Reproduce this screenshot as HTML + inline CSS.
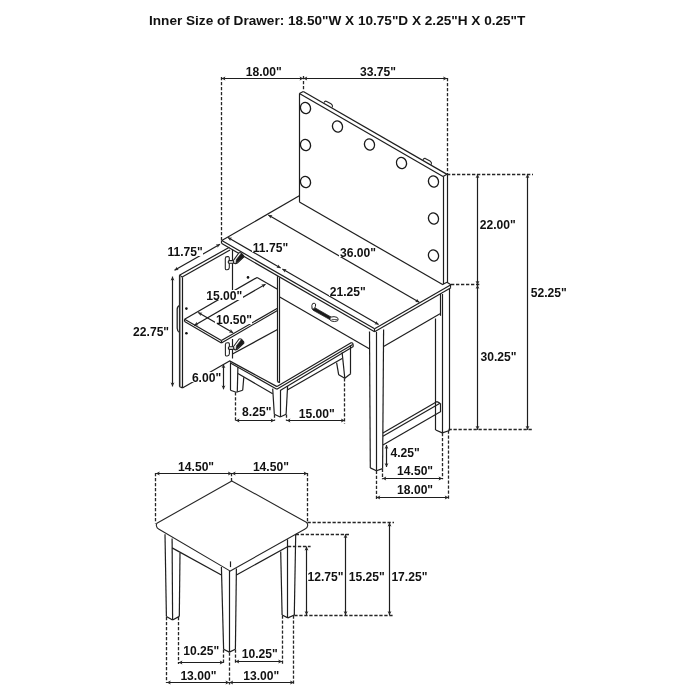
<!DOCTYPE html>
<html><head><meta charset="utf-8"><style>
html,body{margin:0;padding:0;background:#fff;width:700px;height:700px;overflow:hidden}
svg{display:block;will-change:transform}
text{font-family:"Liberation Sans",sans-serif;font-weight:bold;fill:#111}
</style></head><body>
<svg width="700" height="700" viewBox="0 0 700 700">
<rect width="700" height="700" fill="#fff"/>
<line x1="221.50" y1="77.00" x2="221.50" y2="240.50" stroke="#262626" stroke-width="1.3" stroke-dasharray="3.3,1.7"/>
<line x1="303.50" y1="76.00" x2="303.50" y2="91.00" stroke="#262626" stroke-width="1.3" stroke-dasharray="3.3,1.7"/>
<line x1="447.50" y1="78.00" x2="447.50" y2="174.20" stroke="#262626" stroke-width="1.3" stroke-dasharray="3.3,1.7"/>
<line x1="221.60" y1="78.50" x2="303.40" y2="78.50" stroke="#1e1e1e" stroke-width="1.2"/>
<path d="M303.40,78.50 L299.60,80.40 L300.36,78.50 L299.60,76.60 Z" fill="#262626"/>
<path d="M221.60,78.50 L225.40,76.60 L224.64,78.50 L225.40,80.40 Z" fill="#262626"/>
<line x1="303.40" y1="78.50" x2="447.00" y2="78.50" stroke="#1e1e1e" stroke-width="1.2"/>
<path d="M447.00,78.50 L443.20,80.40 L443.96,78.50 L443.20,76.60 Z" fill="#262626"/>
<path d="M303.40,78.50 L307.20,76.60 L306.44,78.50 L307.20,80.40 Z" fill="#262626"/>
<line x1="299.50" y1="93.60" x2="299.50" y2="201.90" stroke="#1e1e1e" stroke-width="1.2"/>
<line x1="299.40" y1="93.60" x2="443.00" y2="176.51" stroke="#1e1e1e" stroke-width="1.2"/>
<line x1="303.30" y1="91.40" x2="447.00" y2="174.37" stroke="#1e1e1e" stroke-width="1.2"/>
<line x1="299.40" y1="93.60" x2="303.30" y2="91.40" stroke="#1e1e1e" stroke-width="1.2"/>
<line x1="443.00" y1="176.50" x2="447.00" y2="174.30" stroke="#1e1e1e" stroke-width="1.2"/>
<line x1="443.50" y1="176.50" x2="443.50" y2="284.30" stroke="#1e1e1e" stroke-width="1.2"/>
<line x1="447.50" y1="174.30" x2="447.50" y2="282.30" stroke="#1e1e1e" stroke-width="1.2"/>
<line x1="299.40" y1="201.90" x2="443.00" y2="284.80" stroke="#1e1e1e" stroke-width="1.2"/>
<ellipse cx="305.5" cy="108" rx="5.0" ry="5.7" transform="rotate(-18 305.5 108)" fill="none" stroke="#1a1a1a" stroke-width="1.3"/>
<ellipse cx="337.5" cy="126.5" rx="5.0" ry="5.7" transform="rotate(-18 337.5 126.5)" fill="none" stroke="#1a1a1a" stroke-width="1.3"/>
<ellipse cx="369.5" cy="144.5" rx="5.0" ry="5.7" transform="rotate(-18 369.5 144.5)" fill="none" stroke="#1a1a1a" stroke-width="1.3"/>
<ellipse cx="401.5" cy="163" rx="5.0" ry="5.7" transform="rotate(-18 401.5 163)" fill="none" stroke="#1a1a1a" stroke-width="1.3"/>
<ellipse cx="433.5" cy="181.5" rx="5.0" ry="5.7" transform="rotate(-18 433.5 181.5)" fill="none" stroke="#1a1a1a" stroke-width="1.3"/>
<ellipse cx="305.5" cy="145" rx="5.0" ry="5.7" transform="rotate(-18 305.5 145)" fill="none" stroke="#1a1a1a" stroke-width="1.3"/>
<ellipse cx="305.5" cy="182" rx="5.0" ry="5.7" transform="rotate(-18 305.5 182)" fill="none" stroke="#1a1a1a" stroke-width="1.3"/>
<ellipse cx="433.5" cy="218.5" rx="5.0" ry="5.7" transform="rotate(-18 433.5 218.5)" fill="none" stroke="#1a1a1a" stroke-width="1.3"/>
<ellipse cx="433.5" cy="255.5" rx="5.0" ry="5.7" transform="rotate(-18 433.5 255.5)" fill="none" stroke="#1a1a1a" stroke-width="1.3"/>
<path d="M324,102.6 Q324.8,100.8 326.2,101.19999999999999 L331,103.8 Q333,105.0 332.4,107.39999999999999" fill="none" stroke="#262626" stroke-width="1.1" stroke-linejoin="round"/>
<path d="M423,159.8 Q423.8,158.0 425.2,158.4 L430,161.0 Q432,162.20000000000002 431.4,164.60000000000002" fill="none" stroke="#262626" stroke-width="1.1" stroke-linejoin="round"/>
<line x1="447.00" y1="174.50" x2="533.00" y2="174.50" stroke="#262626" stroke-width="1.3" stroke-dasharray="3.3,1.7"/>
<line x1="451.00" y1="284.50" x2="481.00" y2="284.50" stroke="#262626" stroke-width="1.3" stroke-dasharray="3.3,1.7"/>
<line x1="448.50" y1="429.50" x2="533.00" y2="429.50" stroke="#262626" stroke-width="1.3" stroke-dasharray="3.3,1.7"/>
<line x1="477.50" y1="174.20" x2="477.50" y2="284.90" stroke="#1e1e1e" stroke-width="1.2"/>
<path d="M477.50,284.90 L475.60,281.10 L477.50,281.86 L479.40,281.10 Z" fill="#262626"/>
<path d="M477.50,174.20 L479.40,178.00 L477.50,177.24 L475.60,178.00 Z" fill="#262626"/>
<line x1="477.50" y1="284.90" x2="477.50" y2="429.80" stroke="#1e1e1e" stroke-width="1.2"/>
<path d="M477.50,429.80 L475.60,426.00 L477.50,426.76 L479.40,426.00 Z" fill="#262626"/>
<path d="M477.50,284.90 L479.40,288.70 L477.50,287.94 L475.60,288.70 Z" fill="#262626"/>
<line x1="527.50" y1="174.20" x2="527.50" y2="429.80" stroke="#1e1e1e" stroke-width="1.2"/>
<path d="M527.50,429.80 L525.60,426.00 L527.50,426.76 L529.40,426.00 Z" fill="#262626"/>
<path d="M527.50,174.20 L529.40,178.00 L527.50,177.24 L525.60,178.00 Z" fill="#262626"/>
<line x1="221.80" y1="240.60" x2="299.30" y2="195.85" stroke="#1e1e1e" stroke-width="1.2"/>
<line x1="221.80" y1="240.60" x2="374.60" y2="328.83" stroke="#1e1e1e" stroke-width="1.2"/>
<line x1="221.80" y1="243.60" x2="374.60" y2="331.83" stroke="#1e1e1e" stroke-width="1.2"/>
<line x1="221.50" y1="240.60" x2="221.50" y2="243.60" stroke="#1e1e1e" stroke-width="1.2"/>
<line x1="374.60" y1="328.83" x2="450.90" y2="284.77" stroke="#1e1e1e" stroke-width="1.2"/>
<line x1="374.60" y1="331.83" x2="450.90" y2="287.77" stroke="#1e1e1e" stroke-width="1.2"/>
<line x1="374.50" y1="328.83" x2="374.50" y2="331.83" stroke="#1e1e1e" stroke-width="1.2"/>
<line x1="450.50" y1="284.77" x2="450.50" y2="287.77" stroke="#1e1e1e" stroke-width="1.2"/>
<line x1="450.90" y1="284.77" x2="447.00" y2="282.30" stroke="#1e1e1e" stroke-width="1.2"/>
<line x1="443.00" y1="284.30" x2="447.00" y2="282.30" stroke="#1e1e1e" stroke-width="1.2"/>
<line x1="268.30" y1="215.00" x2="419.30" y2="302.19" stroke="#1e1e1e" stroke-width="1.2"/>
<path d="M419.30,302.19 L415.06,301.93 L416.67,300.67 L416.96,298.64 Z" fill="#262626"/>
<path d="M268.30,215.00 L272.54,215.25 L270.93,216.52 L270.64,218.55 Z" fill="#262626"/>
<line x1="227.90" y1="237.50" x2="280.60" y2="267.93" stroke="#1e1e1e" stroke-width="1.2"/>
<path d="M280.60,267.93 L276.36,267.67 L277.97,266.41 L278.26,264.38 Z" fill="#262626"/>
<path d="M227.90,237.50 L232.14,237.75 L230.53,239.02 L230.24,241.05 Z" fill="#262626"/>
<line x1="282.40" y1="268.97" x2="378.60" y2="324.51" stroke="#1e1e1e" stroke-width="1.2"/>
<path d="M378.60,324.51 L374.36,324.26 L375.97,322.99 L376.26,320.97 Z" fill="#262626"/>
<path d="M282.40,268.97 L286.64,269.22 L285.03,270.49 L284.74,272.51 Z" fill="#262626"/>
<line x1="277.50" y1="276.20" x2="277.50" y2="381.60" stroke="#1e1e1e" stroke-width="1.2"/>
<line x1="279.50" y1="277.40" x2="279.50" y2="382.60" stroke="#1e1e1e" stroke-width="1.2"/>
<line x1="279.70" y1="297.00" x2="369.30" y2="348.74" stroke="#1e1e1e" stroke-width="1.2"/>
<path d="M313.2,306.8 L331,317 L331.5,320.5 L313.2,310.3 Q311.6,309 312,307.5 Z" fill="#1a1a1a" stroke="#262626" stroke-width="0.8" stroke-linejoin="round"/>
<path d="M312.2,308.6 Q311.2,305.2 312.6,303.6 Q314.2,302.6 315.6,304 Q315.8,306.6 314.6,308.2" fill="#fff" stroke="#262626" stroke-width="1.0" stroke-linejoin="round"/>
<path d="M330,317.2 Q334.5,316 337.2,317.4 Q339,319 337.6,320.8 Q334.8,322.2 331.2,321 Q329.6,320 330,317.2 Z" fill="#fff" stroke="#262626" stroke-width="1.0" stroke-linejoin="round"/>
<line x1="331.50" y1="319.40" x2="337.60" y2="319.60" stroke="#1e1e1e" stroke-width="0.7"/>
<line x1="369.50" y1="331.50" x2="370.30" y2="467.90" stroke="#1e1e1e" stroke-width="1.2"/>
<line x1="376.50" y1="331.80" x2="376.50" y2="470.70" stroke="#1e1e1e" stroke-width="1.2"/>
<line x1="383.60" y1="329.50" x2="382.60" y2="468.60" stroke="#1e1e1e" stroke-width="1.2"/>
<line x1="370.30" y1="467.90" x2="376.40" y2="470.70" stroke="#1e1e1e" stroke-width="1.2"/>
<line x1="376.40" y1="470.70" x2="382.60" y2="468.60" stroke="#1e1e1e" stroke-width="1.2"/>
<line x1="383.60" y1="346.40" x2="440.00" y2="313.83" stroke="#1e1e1e" stroke-width="1.2"/>
<line x1="440.50" y1="294.00" x2="440.50" y2="315.80" stroke="#1e1e1e" stroke-width="1.2"/>
<line x1="442.50" y1="294.00" x2="442.50" y2="432.90" stroke="#1e1e1e" stroke-width="1.2"/>
<line x1="449.50" y1="288.30" x2="449.50" y2="430.50" stroke="#1e1e1e" stroke-width="1.2"/>
<line x1="435.50" y1="318.50" x2="435.50" y2="430.00" stroke="#1e1e1e" stroke-width="1.2"/>
<line x1="435.70" y1="430.00" x2="442.30" y2="432.90" stroke="#1e1e1e" stroke-width="1.2"/>
<line x1="442.30" y1="432.90" x2="449.50" y2="430.50" stroke="#1e1e1e" stroke-width="1.2"/>
<line x1="382.90" y1="432.90" x2="437.10" y2="401.60" stroke="#1e1e1e" stroke-width="1.2"/>
<line x1="382.90" y1="436.20" x2="440.00" y2="403.23" stroke="#1e1e1e" stroke-width="1.2"/>
<line x1="382.90" y1="445.00" x2="440.00" y2="412.03" stroke="#1e1e1e" stroke-width="1.2"/>
<line x1="437.10" y1="401.60" x2="440.00" y2="403.20" stroke="#1e1e1e" stroke-width="1.2"/>
<line x1="440.50" y1="403.20" x2="440.50" y2="412.30" stroke="#1e1e1e" stroke-width="1.2"/>
<line x1="376.50" y1="470.70" x2="376.50" y2="499.30" stroke="#262626" stroke-width="1.3" stroke-dasharray="3.3,1.7"/>
<line x1="382.50" y1="468.60" x2="382.50" y2="479.30" stroke="#262626" stroke-width="1.3" stroke-dasharray="3.3,1.7"/>
<line x1="442.50" y1="433.00" x2="442.50" y2="479.30" stroke="#262626" stroke-width="1.3" stroke-dasharray="3.3,1.7"/>
<line x1="448.50" y1="430.50" x2="448.50" y2="499.30" stroke="#262626" stroke-width="1.3" stroke-dasharray="3.3,1.7"/>
<line x1="382.40" y1="478.50" x2="442.40" y2="478.50" stroke="#1e1e1e" stroke-width="1.2"/>
<path d="M442.40,478.50 L438.60,480.40 L439.36,478.50 L438.60,476.60 Z" fill="#262626"/>
<path d="M382.40,478.50 L386.20,476.60 L385.44,478.50 L386.20,480.40 Z" fill="#262626"/>
<line x1="376.40" y1="497.50" x2="448.60" y2="497.50" stroke="#1e1e1e" stroke-width="1.2"/>
<path d="M448.60,497.50 L444.80,499.40 L445.56,497.50 L444.80,495.60 Z" fill="#262626"/>
<path d="M376.40,497.50 L380.20,495.60 L379.44,497.50 L380.20,499.40 Z" fill="#262626"/>
<line x1="386.50" y1="445.00" x2="386.50" y2="467.00" stroke="#1e1e1e" stroke-width="1.2"/>
<path d="M386.50,467.00 L384.60,463.20 L386.50,463.96 L388.40,463.20 Z" fill="#262626"/>
<path d="M386.50,445.00 L388.40,448.80 L386.50,448.04 L384.60,448.80 Z" fill="#262626"/>
<line x1="179.40" y1="275.20" x2="229.40" y2="247.30" stroke="#1e1e1e" stroke-width="1.2"/>
<line x1="182.20" y1="277.00" x2="230.00" y2="250.00" stroke="#1e1e1e" stroke-width="1.2"/>
<line x1="179.40" y1="275.20" x2="182.20" y2="277.00" stroke="#1e1e1e" stroke-width="1.2"/>
<line x1="179.50" y1="275.40" x2="179.50" y2="386.40" stroke="#1e1e1e" stroke-width="1.2"/>
<line x1="182.50" y1="277.20" x2="182.50" y2="387.90" stroke="#1e1e1e" stroke-width="1.2"/>
<line x1="179.30" y1="386.40" x2="182.40" y2="387.90" stroke="#1e1e1e" stroke-width="1.2"/>
<line x1="182.40" y1="387.90" x2="230.00" y2="360.70" stroke="#1e1e1e" stroke-width="1.2"/>
<path d="M179.8,305.4 Q177.2,306.4 177.2,309.2 L177.2,328.2 Q177.2,331.2 179.8,332.8" fill="none" stroke="#262626" stroke-width="1.3" stroke-linejoin="round"/>
<line x1="180.50" y1="276.50" x2="180.50" y2="386.50" stroke="#9a9a9a" stroke-width="1.2"/>
<circle cx="186.4" cy="308.6" r="1.3" fill="#111"/>
<circle cx="186.4" cy="333.3" r="1.3" fill="#111"/>
<circle cx="248" cy="277.4" r="1.3" fill="#111"/>
<line x1="174.50" y1="270.30" x2="220.00" y2="244.30" stroke="#1e1e1e" stroke-width="1.2"/>
<path d="M220.00,244.30 L217.64,247.83 L217.36,245.81 L215.76,244.54 Z" fill="#262626"/>
<path d="M174.50,270.30 L176.86,266.77 L177.14,268.79 L178.74,270.06 Z" fill="#262626"/>
<line x1="172.50" y1="276.60" x2="172.50" y2="386.40" stroke="#1e1e1e" stroke-width="1.2"/>
<path d="M172.50,386.40 L170.60,382.60 L172.50,383.36 L174.40,382.60 Z" fill="#262626"/>
<path d="M172.50,276.60 L174.40,280.40 L172.50,279.64 L170.60,280.40 Z" fill="#262626"/>
<line x1="223.50" y1="364.30" x2="223.50" y2="389.30" stroke="#1e1e1e" stroke-width="1.2"/>
<path d="M223.50,389.30 L221.60,385.50 L223.50,386.26 L225.40,385.50 Z" fill="#262626"/>
<path d="M223.50,364.30 L225.40,368.10 L223.50,367.34 L221.60,368.10 Z" fill="#262626"/>
<line x1="184.60" y1="319.30" x2="257.10" y2="277.40" stroke="#1e1e1e" stroke-width="1.2"/>
<line x1="184.60" y1="319.30" x2="221.40" y2="340.60" stroke="#1e1e1e" stroke-width="1.2"/>
<line x1="184.60" y1="321.60" x2="221.40" y2="342.90" stroke="#1e1e1e" stroke-width="1.2"/>
<line x1="184.50" y1="319.30" x2="184.50" y2="321.60" stroke="#1e1e1e" stroke-width="1.2"/>
<line x1="221.40" y1="340.60" x2="277.50" y2="308.20" stroke="#1e1e1e" stroke-width="1.2"/>
<line x1="221.40" y1="342.90" x2="277.50" y2="310.50" stroke="#1e1e1e" stroke-width="1.2"/>
<line x1="221.50" y1="340.60" x2="221.50" y2="342.90" stroke="#1e1e1e" stroke-width="1.2"/>
<line x1="257.10" y1="277.40" x2="277.50" y2="289.20" stroke="#1e1e1e" stroke-width="1.2"/>
<line x1="198.20" y1="312.50" x2="233.10" y2="332.65" stroke="#1e1e1e" stroke-width="1.2"/>
<path d="M233.10,332.65 L228.86,332.40 L230.47,331.13 L230.76,329.11 Z" fill="#262626"/>
<path d="M198.20,312.50 L202.44,312.75 L200.83,314.02 L200.54,316.05 Z" fill="#262626"/>
<line x1="194.30" y1="325.40" x2="265.50" y2="284.29" stroke="#1e1e1e" stroke-width="1.2"/>
<path d="M265.50,284.29 L263.16,287.83 L262.87,285.81 L261.26,284.54 Z" fill="#262626"/>
<path d="M194.30,325.40 L196.64,321.85 L196.93,323.88 L198.54,325.15 Z" fill="#262626"/>
<line x1="232.50" y1="249.50" x2="232.50" y2="290.00" stroke="#1e1e1e" stroke-width="1.2"/>
<line x1="232.50" y1="339.00" x2="232.50" y2="358.50" stroke="#1e1e1e" stroke-width="1.2"/>
<path d="M225.3,258.40000000000003 Q225.3,256.6 227.3,256.6 L228.5,256.6 Q229.3,257.1 229.3,258.1 L229.3,267.6 Q229.10000000000002,269.6 227.10000000000002,269.8 L226.10000000000002,269.8 Q225.3,269.6 225.3,268.6 Z" fill="#fff" stroke="#262626" stroke-width="1.1" stroke-linejoin="round"/>
<path d="M233.3,260.6 L238.8,253.00000000000003 Q239.8,252.00000000000003 241.3,253.00000000000003 L243.60000000000002,255.60000000000002 L243.60000000000002,257.20000000000005 L237.3,263.1 Q235.3,264.20000000000005 233.8,263.1 Z" fill="#fff" stroke="#262626" stroke-width="1.1" stroke-linejoin="round"/>
<path d="M235.8,263.6 L243.60000000000002,257.20000000000005 L243.60000000000002,255.60000000000002 L241.3,253.20000000000002 L236.3,259.6 Z" fill="#1a1a1a" stroke="#262626" stroke-width="0.6" stroke-linejoin="round"/>
<rect x="228.20000000000002" y="260.6" width="5.6" height="2.6" rx="1.3" fill="#fff" stroke="#1e1e1e" stroke-width="1.1"/>
<path d="M225.4,344.6 Q225.4,342.8 227.4,342.8 L228.6,342.8 Q229.4,343.3 229.4,344.3 L229.4,353.8 Q229.20000000000002,355.8 227.20000000000002,356.0 L226.20000000000002,356.0 Q225.4,355.8 225.4,354.8 Z" fill="#fff" stroke="#262626" stroke-width="1.1" stroke-linejoin="round"/>
<path d="M233.4,346.8 L238.9,339.2 Q239.9,338.2 241.4,339.2 L243.70000000000002,341.8 L243.70000000000002,343.40000000000003 L237.4,349.3 Q235.4,350.40000000000003 233.9,349.3 Z" fill="#fff" stroke="#262626" stroke-width="1.1" stroke-linejoin="round"/>
<path d="M235.9,349.8 L243.70000000000002,343.40000000000003 L243.70000000000002,341.8 L241.4,339.40000000000003 L236.4,345.8 Z" fill="#1a1a1a" stroke="#262626" stroke-width="0.6" stroke-linejoin="round"/>
<rect x="228.3" y="346.8" width="5.6" height="2.6" rx="1.3" fill="#fff" stroke="#1e1e1e" stroke-width="1.1"/>
<line x1="232.50" y1="354.00" x2="277.50" y2="329.50" stroke="#1e1e1e" stroke-width="1.2"/>
<line x1="229.60" y1="360.90" x2="277.00" y2="386.60" stroke="#1e1e1e" stroke-width="1.2"/>
<line x1="230.40" y1="362.90" x2="276.80" y2="389.20" stroke="#1e1e1e" stroke-width="1.2"/>
<line x1="277.00" y1="386.60" x2="351.50" y2="342.60" stroke="#1e1e1e" stroke-width="1.2"/>
<line x1="276.80" y1="389.20" x2="352.70" y2="344.60" stroke="#1e1e1e" stroke-width="1.2"/>
<line x1="280.20" y1="390.40" x2="353.30" y2="346.60" stroke="#1e1e1e" stroke-width="1.2"/>
<line x1="351.50" y1="342.60" x2="352.90" y2="343.40" stroke="#1e1e1e" stroke-width="1.2"/>
<line x1="352.90" y1="343.40" x2="353.30" y2="346.60" stroke="#1e1e1e" stroke-width="1.2"/>
<line x1="277.50" y1="381.60" x2="279.80" y2="382.60" stroke="#1e1e1e" stroke-width="1.2"/>
<line x1="230.50" y1="362.30" x2="230.50" y2="390.20" stroke="#1e1e1e" stroke-width="1.2"/>
<line x1="237.90" y1="367.00" x2="237.30" y2="391.80" stroke="#1e1e1e" stroke-width="1.2"/>
<line x1="243.80" y1="377.30" x2="242.70" y2="390.20" stroke="#1e1e1e" stroke-width="1.2"/>
<line x1="230.40" y1="390.20" x2="236.30" y2="392.30" stroke="#1e1e1e" stroke-width="1.2"/>
<line x1="236.30" y1="392.30" x2="242.70" y2="390.20" stroke="#1e1e1e" stroke-width="1.2"/>
<line x1="237.90" y1="373.60" x2="272.70" y2="393.69" stroke="#1e1e1e" stroke-width="1.2"/>
<line x1="272.70" y1="388.60" x2="274.30" y2="414.30" stroke="#1e1e1e" stroke-width="1.2"/>
<line x1="280.50" y1="390.00" x2="280.50" y2="417.00" stroke="#1e1e1e" stroke-width="1.2"/>
<line x1="287.60" y1="386.00" x2="286.10" y2="414.30" stroke="#1e1e1e" stroke-width="1.2"/>
<line x1="274.30" y1="414.30" x2="280.20" y2="417.00" stroke="#1e1e1e" stroke-width="1.2"/>
<line x1="280.20" y1="417.00" x2="286.10" y2="414.30" stroke="#1e1e1e" stroke-width="1.2"/>
<line x1="287.70" y1="389.80" x2="342.10" y2="358.50" stroke="#1e1e1e" stroke-width="1.2"/>
<line x1="342.10" y1="352.40" x2="344.80" y2="378.20" stroke="#1e1e1e" stroke-width="1.2"/>
<line x1="350.50" y1="345.60" x2="350.50" y2="373.50" stroke="#1e1e1e" stroke-width="1.2"/>
<line x1="336.60" y1="362.60" x2="338.70" y2="374.80" stroke="#1e1e1e" stroke-width="1.2"/>
<line x1="338.70" y1="374.80" x2="344.80" y2="378.20" stroke="#1e1e1e" stroke-width="1.2"/>
<line x1="344.80" y1="378.20" x2="350.90" y2="373.50" stroke="#1e1e1e" stroke-width="1.2"/>
<line x1="235.50" y1="392.30" x2="235.50" y2="420.70" stroke="#262626" stroke-width="1.3" stroke-dasharray="3.3,1.7"/>
<line x1="274.50" y1="414.50" x2="274.50" y2="420.70" stroke="#262626" stroke-width="1.3" stroke-dasharray="3.3,1.7"/>
<line x1="286.50" y1="414.50" x2="286.50" y2="420.70" stroke="#262626" stroke-width="1.3" stroke-dasharray="3.3,1.7"/>
<line x1="344.50" y1="378.20" x2="344.50" y2="423.70" stroke="#262626" stroke-width="1.3" stroke-dasharray="3.3,1.7"/>
<line x1="235.70" y1="420.50" x2="274.50" y2="420.50" stroke="#1e1e1e" stroke-width="1.2"/>
<path d="M274.50,420.50 L270.70,422.40 L271.46,420.50 L270.70,418.60 Z" fill="#262626"/>
<path d="M235.70,420.50 L239.50,418.60 L238.74,420.50 L239.50,422.40 Z" fill="#262626"/>
<line x1="286.60" y1="420.50" x2="344.80" y2="420.50" stroke="#1e1e1e" stroke-width="1.2"/>
<path d="M344.80,420.50 L341.00,422.40 L341.76,420.50 L341.00,418.60 Z" fill="#262626"/>
<path d="M286.60,420.50 L290.40,418.60 L289.64,420.50 L290.40,422.40 Z" fill="#262626"/>
<path d="M231.8,480.9 L306.3,522.3 C308.2,523.6 308.4,527.6 305.1,528.9 L230.3,571.1 L158.6,529 C156.2,527.8 155.9,524.6 156.9,523.3 Z" fill="none" stroke="#262626" stroke-width="1.1" stroke-linejoin="round"/>
<line x1="155.50" y1="472.90" x2="155.50" y2="523.60" stroke="#262626" stroke-width="1.3" stroke-dasharray="3.3,1.7"/>
<line x1="307.50" y1="472.90" x2="307.50" y2="522.00" stroke="#262626" stroke-width="1.3" stroke-dasharray="3.3,1.7"/>
<line x1="231.50" y1="472.90" x2="231.50" y2="480.90" stroke="#262626" stroke-width="1.3" stroke-dasharray="3.3,1.7"/>
<line x1="155.90" y1="473.50" x2="231.80" y2="473.50" stroke="#1e1e1e" stroke-width="1.2"/>
<path d="M231.80,473.50 L228.00,475.40 L228.76,473.50 L228.00,471.60 Z" fill="#262626"/>
<path d="M155.90,473.50 L159.70,471.60 L158.94,473.50 L159.70,475.40 Z" fill="#262626"/>
<line x1="231.80" y1="473.50" x2="307.50" y2="473.50" stroke="#1e1e1e" stroke-width="1.2"/>
<path d="M307.50,473.50 L303.70,475.40 L304.46,473.50 L303.70,471.60 Z" fill="#262626"/>
<path d="M231.80,473.50 L235.60,471.60 L234.84,473.50 L235.60,475.40 Z" fill="#262626"/>
<line x1="165.00" y1="534.30" x2="166.40" y2="616.40" stroke="#1e1e1e" stroke-width="1.2"/>
<line x1="172.10" y1="538.60" x2="172.60" y2="620.00" stroke="#1e1e1e" stroke-width="1.2"/>
<line x1="180.00" y1="552.90" x2="179.30" y2="616.40" stroke="#1e1e1e" stroke-width="1.2"/>
<line x1="166.40" y1="616.40" x2="172.60" y2="620.00" stroke="#1e1e1e" stroke-width="1.2"/>
<line x1="172.60" y1="620.00" x2="179.30" y2="616.40" stroke="#1e1e1e" stroke-width="1.2"/>
<line x1="172.10" y1="547.90" x2="221.40" y2="575.00" stroke="#1e1e1e" stroke-width="1.2"/>
<line x1="221.40" y1="567.10" x2="223.60" y2="649.30" stroke="#1e1e1e" stroke-width="1.2"/>
<line x1="229.50" y1="571.00" x2="229.50" y2="652.10" stroke="#1e1e1e" stroke-width="1.2"/>
<line x1="236.40" y1="568.60" x2="235.40" y2="649.30" stroke="#1e1e1e" stroke-width="1.2"/>
<line x1="223.60" y1="649.30" x2="229.30" y2="652.10" stroke="#1e1e1e" stroke-width="1.2"/>
<line x1="229.30" y1="652.10" x2="235.40" y2="649.30" stroke="#1e1e1e" stroke-width="1.2"/>
<line x1="230.50" y1="561.40" x2="230.50" y2="567.10" stroke="#1e1e1e" stroke-width="1.2"/>
<line x1="236.40" y1="575.00" x2="287.90" y2="546.40" stroke="#1e1e1e" stroke-width="1.2"/>
<line x1="280.70" y1="551.40" x2="282.10" y2="615.00" stroke="#1e1e1e" stroke-width="1.2"/>
<line x1="287.50" y1="539.30" x2="287.50" y2="617.90" stroke="#1e1e1e" stroke-width="1.2"/>
<line x1="295.70" y1="534.30" x2="294.30" y2="615.00" stroke="#1e1e1e" stroke-width="1.2"/>
<line x1="282.10" y1="615.00" x2="287.90" y2="617.90" stroke="#1e1e1e" stroke-width="1.2"/>
<line x1="287.90" y1="617.90" x2="294.30" y2="615.00" stroke="#1e1e1e" stroke-width="1.2"/>
<line x1="307.50" y1="522.50" x2="394.00" y2="522.50" stroke="#262626" stroke-width="1.3" stroke-dasharray="3.3,1.7"/>
<line x1="295.70" y1="534.50" x2="350.00" y2="534.50" stroke="#262626" stroke-width="1.3" stroke-dasharray="3.3,1.7"/>
<line x1="287.90" y1="546.50" x2="310.60" y2="546.50" stroke="#262626" stroke-width="1.3" stroke-dasharray="3.3,1.7"/>
<line x1="294.30" y1="615.50" x2="394.00" y2="615.50" stroke="#262626" stroke-width="1.3" stroke-dasharray="3.3,1.7"/>
<line x1="306.50" y1="546.60" x2="306.50" y2="615.10" stroke="#1e1e1e" stroke-width="1.2"/>
<path d="M306.50,615.10 L304.60,611.30 L306.50,612.06 L308.40,611.30 Z" fill="#262626"/>
<path d="M306.50,546.60 L308.40,550.40 L306.50,549.64 L304.60,550.40 Z" fill="#262626"/>
<line x1="345.50" y1="534.20" x2="345.50" y2="615.10" stroke="#1e1e1e" stroke-width="1.2"/>
<path d="M345.50,615.10 L343.60,611.30 L345.50,612.06 L347.40,611.30 Z" fill="#262626"/>
<path d="M345.50,534.20 L347.40,538.00 L345.50,537.24 L343.60,538.00 Z" fill="#262626"/>
<line x1="389.50" y1="522.60" x2="389.50" y2="615.10" stroke="#1e1e1e" stroke-width="1.2"/>
<path d="M389.50,615.10 L387.60,611.30 L389.50,612.06 L391.40,611.30 Z" fill="#262626"/>
<path d="M389.50,522.60 L391.40,526.40 L389.50,525.64 L387.60,526.40 Z" fill="#262626"/>
<line x1="166.50" y1="617.00" x2="166.50" y2="683.00" stroke="#262626" stroke-width="1.3" stroke-dasharray="3.3,1.7"/>
<line x1="178.50" y1="617.00" x2="178.50" y2="664.00" stroke="#262626" stroke-width="1.3" stroke-dasharray="3.3,1.7"/>
<line x1="223.50" y1="649.50" x2="223.50" y2="664.00" stroke="#262626" stroke-width="1.3" stroke-dasharray="3.3,1.7"/>
<line x1="229.50" y1="652.50" x2="229.50" y2="684.50" stroke="#262626" stroke-width="1.3" stroke-dasharray="3.3,1.7"/>
<line x1="235.50" y1="649.50" x2="235.50" y2="664.00" stroke="#262626" stroke-width="1.3" stroke-dasharray="3.3,1.7"/>
<line x1="282.50" y1="615.50" x2="282.50" y2="664.00" stroke="#262626" stroke-width="1.3" stroke-dasharray="3.3,1.7"/>
<line x1="293.50" y1="615.50" x2="293.50" y2="685.00" stroke="#262626" stroke-width="1.3" stroke-dasharray="3.3,1.7"/>
<line x1="178.60" y1="662.50" x2="223.60" y2="662.50" stroke="#1e1e1e" stroke-width="1.2"/>
<path d="M223.60,662.50 L219.80,664.40 L220.56,662.50 L219.80,660.60 Z" fill="#262626"/>
<path d="M178.60,662.50 L182.40,660.60 L181.64,662.50 L182.40,664.40 Z" fill="#262626"/>
<line x1="235.40" y1="661.50" x2="282.10" y2="661.50" stroke="#1e1e1e" stroke-width="1.2"/>
<path d="M282.10,661.50 L278.30,663.40 L279.06,661.50 L278.30,659.60 Z" fill="#262626"/>
<path d="M235.40,661.50 L239.20,659.60 L238.44,661.50 L239.20,663.40 Z" fill="#262626"/>
<line x1="166.90" y1="682.50" x2="229.30" y2="682.50" stroke="#1e1e1e" stroke-width="1.2"/>
<path d="M229.30,682.50 L225.50,684.40 L226.26,682.50 L225.50,680.60 Z" fill="#262626"/>
<path d="M166.90,682.50 L170.70,680.60 L169.94,682.50 L170.70,684.40 Z" fill="#262626"/>
<line x1="229.30" y1="682.50" x2="293.90" y2="682.50" stroke="#1e1e1e" stroke-width="1.2"/>
<path d="M293.90,682.50 L290.10,684.40 L290.86,682.50 L290.10,680.60 Z" fill="#262626"/>
<path d="M229.30,682.50 L233.10,680.60 L232.34,682.50 L233.10,684.40 Z" fill="#262626"/>
<rect x="245" y="66" width="37" height="10" fill="#fff"/>
<rect x="359" y="66" width="37" height="10" fill="#fff"/>
<rect x="479" y="219" width="37" height="10" fill="#fff"/>
<rect x="480" y="351" width="37" height="10" fill="#fff"/>
<rect x="530" y="287" width="37" height="10" fill="#fff"/>
<rect x="339" y="247" width="37" height="10" fill="#fff"/>
<rect x="252" y="242" width="37" height="10" fill="#fff"/>
<rect x="329" y="286" width="37" height="10" fill="#fff"/>
<rect x="389" y="447" width="31" height="10" fill="#fff"/>
<rect x="396" y="465" width="37" height="10" fill="#fff"/>
<rect x="396" y="484" width="37" height="10" fill="#fff"/>
<rect x="167" y="246" width="36" height="10" fill="#fff"/>
<rect x="132" y="326" width="37" height="10" fill="#fff"/>
<rect x="191" y="372" width="31" height="10" fill="#fff"/>
<rect x="206" y="290" width="37" height="10" fill="#fff"/>
<rect x="215" y="314" width="37" height="10" fill="#fff"/>
<rect x="241" y="406" width="31" height="10" fill="#fff"/>
<rect x="298" y="408" width="37" height="10" fill="#fff"/>
<rect x="177" y="461" width="37" height="10" fill="#fff"/>
<rect x="252" y="461" width="37" height="10" fill="#fff"/>
<rect x="307" y="571" width="37" height="10" fill="#fff"/>
<rect x="348" y="571" width="37" height="10" fill="#fff"/>
<rect x="391" y="571" width="37" height="10" fill="#fff"/>
<rect x="183" y="645" width="37" height="10" fill="#fff"/>
<rect x="241" y="648" width="37" height="10" fill="#fff"/>
<rect x="180" y="670" width="37" height="10" fill="#fff"/>
<rect x="243" y="670" width="37" height="10" fill="#fff"/>
<text x="149" y="25.3" font-size="13.6">Inner Size of Drawer: 18.50"W X 10.75"D X 2.25"H X 0.25"T</text>
<text x="245.70" y="75.70" font-size="12.1">18.00"</text>
<text x="360.00" y="75.80" font-size="12.1">33.75"</text>
<text x="479.70" y="229.40" font-size="12.1">22.00"</text>
<text x="480.50" y="360.70" font-size="12.1">30.25"</text>
<text x="530.80" y="297.10" font-size="12.1">52.25"</text>
<text x="340.00" y="256.70" font-size="12.1">36.00"</text>
<text x="252.80" y="251.90" font-size="12.1">11.75"</text>
<text x="329.70" y="296.10" font-size="12.1">21.25"</text>
<text x="390.50" y="456.80" font-size="12.1">4.25"</text>
<text x="397.10" y="475.40" font-size="12.1">14.50"</text>
<text x="397.10" y="494.40" font-size="12.1">18.00"</text>
<text x="167.40" y="255.80" font-size="12.1">11.75"</text>
<text x="133.10" y="336.20" font-size="12.1">22.75"</text>
<text x="191.90" y="381.80" font-size="12.1">6.00"</text>
<text x="206.30" y="299.50" font-size="12.1">15.00"</text>
<text x="216.00" y="323.50" font-size="12.1">10.50"</text>
<text x="242.10" y="416.30" font-size="12.1">8.25"</text>
<text x="298.80" y="418.00" font-size="12.1">15.00"</text>
<text x="178.10" y="471.00" font-size="12.1">14.50"</text>
<text x="252.90" y="471.00" font-size="12.1">14.50"</text>
<text x="307.50" y="580.60" font-size="12.1">12.75"</text>
<text x="348.70" y="580.60" font-size="12.1">15.25"</text>
<text x="391.40" y="580.60" font-size="12.1">17.25"</text>
<text x="183.30" y="655.00" font-size="12.1">10.25"</text>
<text x="241.80" y="657.50" font-size="12.1">10.25"</text>
<text x="180.40" y="679.70" font-size="12.1">13.00"</text>
<text x="243.30" y="679.70" font-size="12.1">13.00"</text>
</svg></body></html>
